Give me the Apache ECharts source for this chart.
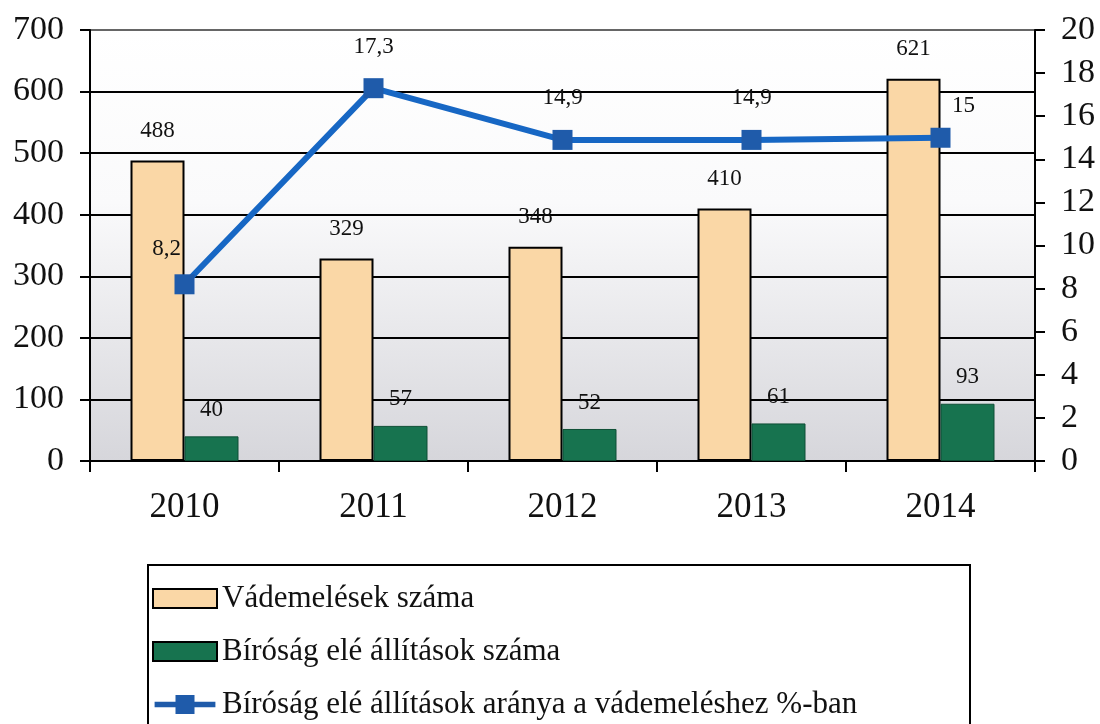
<!DOCTYPE html>
<html>
<head>
<meta charset="utf-8">
<script src="https://cdn.jsdelivr.net/npm/echarts@6/dist/echarts.min.js"></script>
<style>
  html, body { margin: 0; padding: 0; background: #fff; }
  #chart { width: 1100px; height: 724px; }
</style>
</head>
<body>
<div id="chart"></div>
<script>
// data
const years = ['2010', '2011', '2012', '2013', '2014'];
const indictments = [488, 329, 348, 410, 621];
const courtCases = [40, 57, 52, 61, 93];
const courtRatio = [8.2, 17.3, 14.9, 14.9, 15];

const seriesNames = [
  'Vádemelések száma',
  'Bíróság elé állítások száma',
  'Bíróság elé állítások aránya a vádemeléshez %-ban',
];

const FONT = 'Liberation Serif';
const chart = echarts.init(document.getElementById('chart'));

const comma = (v) => String(v).replace('.', ',');

// first and last point labels sit off to the side in the original
const ratioData = courtRatio.map((v, i) => {
  if (i === 0) return { value: v, label: { offset: [-18, 6] } };
  if (i === courtRatio.length - 1) return { value: v, label: { offset: [23, 10] } };
  return v;
});

// line with a square in the middle, like the legend key in the original
const lineKey = 'path://M0,7h22v-7h20v7h22v6h-22v7h-20v-7h-22z';

const option = {
  animation: false,
  backgroundColor: '#fff',
  grid: {
    left: 90,
    right: 65,
    top: 30,
    bottom: 263,
    show: true,
    borderWidth: 0,
    backgroundColor: {
      type: 'linear', x: 0, y: 0, x2: 0, y2: 1,
      colorStops: [
        { offset: 0, color: '#ffffff' },
        { offset: 0.4, color: '#fafafb' },
        { offset: 1, color: '#d6d6db' },
      ],
    },
  },
  graphic: [
    {
      type: 'rect',
      z: 0,
      shape: { x: 148, y: 565, width: 822, height: 200 },
      style: { fill: 'none', stroke: '#000', lineWidth: 2 },
    },
  ],
  legend: {
    orient: 'vertical',
    left: 152,
    top: 583,
    padding: 0,
    itemGap: 22,
    itemWidth: 64,
    itemHeight: 19,
    itemTextGap: 6,
    z: 10,
    textStyle: { fontFamily: FONT, fontSize: 31, color: '#111' },
    data: [
      { name: seriesNames[0], icon: 'rect' },
      { name: seriesNames[1], icon: 'rect', itemStyle: { borderColor: '#000', borderWidth: 2 } },
      { name: seriesNames[2], icon: lineKey, itemStyle: { borderWidth: 0 } },
    ],
  },
  xAxis: {
    type: 'category',
    data: years,
    axisLine: { lineStyle: { color: '#000', width: 2 } },
    axisTick: { show: true, length: 11, lineStyle: { color: '#000', width: 2 } },
    axisLabel: { fontFamily: FONT, fontSize: 35, color: '#111', margin: 29 },
  },
  yAxis: [
    {
      type: 'value',
      min: 0,
      max: 700,
      interval: 100,
      axisLine: { show: true, lineStyle: { color: '#000', width: 2 } },
      axisTick: { show: true, length: 10, lineStyle: { color: '#000', width: 2 } },
      axisLabel: { fontFamily: FONT, fontSize: 34, color: '#111', margin: 26 },
      splitLine: {
        show: true,
        lineStyle: {
          width: 2,
          color: ['#000', '#000', '#000', '#000', '#000', '#000', '#000', '#666'],
        },
      },
    },
    {
      type: 'value',
      position: 'right',
      min: 0,
      max: 20,
      interval: 2,
      axisLine: { show: true, lineStyle: { color: '#000', width: 2 } },
      axisTick: { show: true, length: 10, lineStyle: { color: '#000', width: 2 } },
      axisLabel: { fontFamily: FONT, fontSize: 34, color: '#111', margin: 26 },
      splitLine: { show: false },
    },
  ],
  series: [
    {
      name: seriesNames[0],
      type: 'bar',
      data: indictments,
      barWidth: 54,
      barGap: '0%',
      itemStyle: { color: '#FAD7A6', borderColor: '#000', borderWidth: 2 },
      label: {
        show: true,
        position: 'top',
        distance: 18,
        fontFamily: FONT,
        fontSize: 23,
        color: '#111',
      },
    },
    {
      name: seriesNames[1],
      type: 'bar',
      data: courtCases,
      barWidth: 54,
      itemStyle: { color: '#17734F', borderColor: '#0f4f36', borderWidth: 1 },
      label: {
        show: true,
        position: 'top',
        distance: 15,
        fontFamily: FONT,
        fontSize: 23,
        color: '#111',
      },
    },
    {
      name: seriesNames[2],
      type: 'line',
      yAxisIndex: 1,
      data: ratioData,
      symbol: 'rect',
      symbolSize: 20,
      z: 5,
      lineStyle: { color: '#1767C4', width: 6 },
      itemStyle: { color: '#1F5BAA' },
      label: {
        show: true,
        position: 'top',
        distance: 20,
        fontFamily: FONT,
        fontSize: 23,
        color: '#111',
        formatter: (p) => comma(p.value),
      },
    },
  ],
};

chart.setOption(option);
</script>
</body>
</html>
